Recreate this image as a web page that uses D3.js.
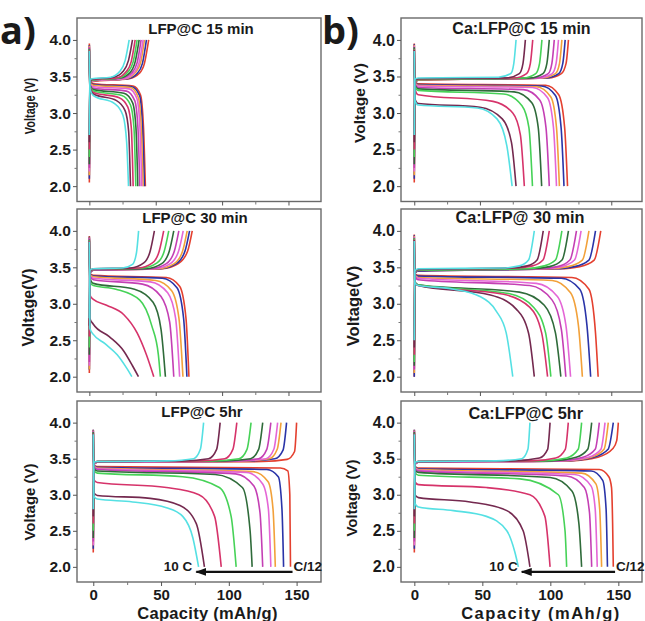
<!DOCTYPE html>
<html>
<head>
<meta charset="utf-8">
<script src="https://cdn.jsdelivr.net/npm/d3@7"></script>
<style>
  body { margin: 0; background: #fff; }
  text { font-family: "Liberation Sans", Arial, sans-serif; font-weight: bold; fill: #1a1a1a; }
</style>
</head>
<body>
<div id="visContainer"></div>
<script>

// rates, C/12 (highest capacity) down to 10 C
var rates = ["C/12", "C/10", "C/5", "C/3", "C/2", "1C", "2C", "3C", "5C", "10C"];
var rateColors = ["#e4402f", "#2a34a8", "#f2a13a", "#e466d6", "#c43fb4", "#2f6b3a", "#46d257", "#d6336a", "#74294f", "#55e0e3"];

var yTicks = [2.0, 2.5, 3.0, 3.5, 4.0];
var yMinor = [2.25, 2.75, 3.25, 3.75];
var xTicks = [0, 50, 100, 150];
var xMinor = [25, 75, 125];

// [capacity mAh/g, voltage V]
var a1Charge = [
  [[0,2.05],[0.4,3.40],[2,3.43],[30,3.47],[37.5,3.54],[41.5,3.68],[44.7,4.0]],
  [[0,2.1],[0.4,3.41],[2,3.44],[29,3.47],[36,3.54],[40,3.68],[43,4.0]],
  [[0,2.15],[0.4,3.41],[2,3.44],[27.5,3.47],[34.5,3.55],[38.5,3.68],[41.5,4.0]],
  [[0,2.2],[0.4,3.42],[2,3.44],[26.5,3.47],[33.5,3.55],[37.5,3.69],[40.5,4.0]],
  [[0,2.25],[0.4,3.42],[2,3.45],[25,3.48],[32,3.55],[36,3.69],[39,4.0]],
  [[0,2.3],[0.4,3.42],[2,3.45],[23.5,3.48],[30.5,3.55],[34.5,3.70],[37.5,4.0]],
  [[0,2.4],[0.4,3.43],[2,3.45],[22,3.48],[29,3.56],[33,3.70],[36,4.0]],
  [[0,2.5],[0.4,3.43],[2,3.46],[20.5,3.48],[27.5,3.56],[31.5,3.70],[34.5,4.0]],
  [[0,2.6],[0.4,3.44],[2,3.46],[18.5,3.49],[25.5,3.57],[29.5,3.72],[32.5,4.0]],
  [[0,2.7],[0.4,3.45],[2,3.47],[16,3.49],[23,3.57],[27,3.72],[30,4.0]]
];
var a1Discharge = [
  [[0,3.95],[0.4,3.43],[3,3.40],[33,3.37],[38.5,3.25],[40.8,2.8],[42.2,2.0]],
  [[0,3.93],[0.4,3.42],[3,3.39],[32,3.36],[37.8,3.24],[40.1,2.8],[41.5,2.0]],
  [[0,3.92],[0.4,3.41],[3,3.38],[31,3.35],[36.8,3.22],[39.1,2.8],[40.5,2.0]],
  [[0,3.9],[0.4,3.40],[3,3.36],[30,3.33],[35.8,3.20],[38.1,2.8],[39.5,2.0]],
  [[0,3.9],[0.4,3.39],[3,3.34],[28,3.30],[34.2,3.17],[36.6,2.8],[38,2.0]],
  [[0,3.88],[0.4,3.38],[3,3.32],[26,3.27],[32.6,3.14],[35.1,2.8],[36.5,2.0]],
  [[0,3.87],[0.4,3.37],[3,3.30],[24.5,3.24],[31,3.11],[33.6,2.8],[35,2.0]],
  [[0,3.86],[0.4,3.36],[3,3.28],[22.5,3.21],[29,3.08],[31.6,2.8],[33,2.0]],
  [[0,3.85],[0.4,3.35],[3,3.26],[20.5,3.17],[27,3.03],[29.6,2.75],[31,2.0]],
  [[0,3.85],[0.4,3.34],[3,3.24],[19,3.13],[25.3,2.97],[28.1,2.6],[29.5,2.0]]
];

var b1Charge = [
  [[0,2.05],[0.4,3.42],[3,3.45],[102,3.48],[112,3.54],[115.6,3.68],[117.4,4.0]],
  [[0,2.1],[0.4,3.42],[3,3.45],[100,3.48],[110,3.54],[113.1,3.68],[114.9,4.0]],
  [[0,2.15],[0.4,3.43],[3,3.45],[97,3.48],[107.5,3.54],[110.6,3.68],[112.4,4.0]],
  [[0,2.2],[0.4,3.43],[3,3.46],[95,3.48],[105,3.54],[108,3.68],[109.8,4.0]],
  [[0,2.25],[0.4,3.43],[3,3.46],[92,3.48],[102,3.54],[104.8,3.68],[106.6,4.0]],
  [[0,2.3],[0.4,3.44],[3,3.46],[88,3.48],[98,3.54],[101,3.68],[102.8,4.0]],
  [[0,2.4],[0.4,3.44],[3,3.46],[83,3.48],[92.5,3.54],[95.4,3.68],[97.2,4.0]],
  [[0,2.5],[0.4,3.45],[3,3.47],[76,3.48],[85.5,3.54],[88.4,3.68],[90.2,4.0]],
  [[0,2.6],[0.4,3.45],[3,3.47],[70,3.48],[80,3.54],[82.8,3.68],[84.6,4.0]],
  [[0,2.7],[0.4,3.46],[3,3.48],[64,3.49],[73.5,3.54],[75.8,3.68],[77.5,4.0]]
];
var b1Discharge = [
  [[0,3.95],[0.4,3.43],[3,3.40],[100,3.38],[110,3.25],[114.5,2.8],[116.7,2.0]],
  [[0,3.94],[0.4,3.42],[3,3.39],[97,3.37],[107.5,3.24],[111.8,2.8],[114,2.0]],
  [[0,3.93],[0.4,3.42],[3,3.38],[93,3.36],[104,3.22],[108.3,2.8],[110.5,2.0]],
  [[0,3.92],[0.4,3.41],[3,3.37],[90,3.35],[101.5,3.21],[106,2.8],[108.3,2.0]],
  [[0,3.9],[0.4,3.40],[3,3.35],[83,3.32],[95.5,3.18],[100.3,2.8],[102.8,2.0]],
  [[0,3.9],[0.4,3.39],[3,3.33],[76,3.29],[89.5,3.14],[94.4,2.8],[97,2.0]],
  [[0,3.88],[0.4,3.38],[3,3.31],[68,3.26],[82,3.10],[87.3,2.8],[90,2.0]],
  [[0,3.87],[0.4,3.34],[3,3.25],[60,3.16],[75,3.0],[80.8,2.7],[83.8,2.0]],
  [[0,3.86],[0.4,3.20],[3,3.13],[50,3.08],[67,2.92],[74,2.6],[77.5,2.0]],
  [[0,3.85],[0.4,3.18],[3,3.11],[48,3.07],[63,2.92],[70.5,2.55],[74.5,2.0]]
];

var a2Charge = [
  [[0,2.05],[0.4,3.42],[3,3.46],[55,3.48],[67,3.55],[74,3.72],[77.5,4.0]],
  [[0,2.1],[0.4,3.42],[3,3.46],[53.5,3.48],[65.5,3.55],[72,3.72],[75.5,4.0]],
  [[0,2.1],[0.4,3.43],[3,3.46],[52,3.48],[64,3.55],[70.2,3.72],[73.7,4.0]],
  [[0,2.15],[0.4,3.43],[3,3.46],[49,3.48],[61,3.55],[67.2,3.72],[70.7,4.0]],
  [[0,2.2],[0.4,3.43],[3,3.46],[46,3.48],[58,3.55],[64,3.72],[67.4,4.0]],
  [[0,2.3],[0.4,3.44],[3,3.47],[43,3.48],[54.5,3.55],[60.2,3.72],[63.6,4.0]],
  [[0,2.4],[0.4,3.44],[3,3.47],[40,3.49],[51,3.56],[56.4,3.72],[59.8,4.0]],
  [[0,2.55],[0.4,3.45],[3,3.47],[37,3.49],[47.5,3.56],[52.6,3.72],[56,4.0]],
  [[0,2.7],[0.4,3.45],[3,3.48],[31,3.49],[41,3.56],[45.8,3.72],[49,4.0]],
  [[0,2.8],[0.4,3.46],[3,3.48],[25,3.49],[32.5,3.54],[35.5,3.7],[37.1,4.0]]
];
var a2Discharge = [
  [[0,3.93],[0.4,3.42],[3,3.39],[58,3.36],[68,3.24],[72.8,2.8],[75,2.0]],
  [[0,3.92],[0.4,3.41],[3,3.38],[55,3.35],[66,3.22],[71,2.8],[73.5,2.0]],
  [[0,3.91],[0.4,3.40],[3,3.37],[50,3.32],[62,3.18],[67.5,2.8],[70.5,2.0]],
  [[0,3.9],[0.4,3.39],[3,3.35],[46,3.30],[59,3.15],[65,2.8],[68,2.0]],
  [[0,3.9],[0.4,3.38],[3,3.33],[40,3.27],[54,3.10],[60.5,2.75],[63.6,2.0]],
  [[0,3.88],[0.4,3.35],[3,3.28],[34,3.20],[48,3.02],[54,2.65],[57.3,2.0]],
  [[0,3.87],[0.4,3.30],[3,3.25],[20,3.2],[38,3.05],[47,2.7],[52,2.3],[53.5,2.0]],
  [[0,3.86],[0.4,3.12],[3,3.06],[13,2.98],[26,2.85],[36,2.6],[43,2.3],[48.5,2.0]],
  [[0,3.85],[0.4,2.8],[3,2.72],[15,2.55],[26,2.35],[32.5,2.15],[37,2.0]],
  [[0,3.85],[0.4,2.66],[3,2.58],[12,2.45],[21,2.3],[28,2.12],[32,2.0]]
];

var b2Charge = [
  [[0,2.0],[0.4,3.42],[3,3.45],[110,3.48],[126,3.51],[137,3.6],[142,4.0]],
  [[0,2.0],[0.4,3.42],[3,3.45],[107,3.48],[122,3.51],[133,3.6],[138,4.0]],
  [[0,2.05],[0.4,3.43],[3,3.46],[102,3.48],[117,3.51],[128,3.6],[133,4.0]],
  [[0,2.1],[0.4,3.43],[3,3.46],[97,3.48],[112,3.51],[122,3.6],[127,4.0]],
  [[0,2.1],[0.4,3.43],[3,3.46],[94,3.48],[109,3.51],[118.5,3.6],[123.5,4.0]],
  [[0,2.15],[0.4,3.44],[3,3.46],[88,3.48],[103,3.51],[112.5,3.6],[117.4,4.0]],
  [[0,2.2],[0.4,3.44],[3,3.46],[84,3.48],[99,3.52],[107.5,3.6],[112.4,4.0]],
  [[0,2.3],[0.4,3.44],[3,3.47],[76,3.49],[90,3.52],[98,3.6],[102.8,4.0]],
  [[0,2.4],[0.4,3.45],[3,3.47],[72,3.49],[86,3.52],[93.5,3.6],[98.2,4.0]],
  [[0,2.5],[0.4,3.45],[3,3.48],[66,3.49],[80,3.52],[87,3.6],[91.4,4.0]]
];
var b2Discharge = [
  [[0,3.95],[0.4,3.42],[3,3.39],[120,3.36],[133,3.2],[138,2.6],[140,2.0]],
  [[0,3.94],[0.4,3.41],[3,3.38],[112,3.35],[126,3.2],[131.5,2.7],[134.3,2.0]],
  [[0,3.93],[0.4,3.40],[3,3.36],[105,3.32],[119,3.15],[125,2.7],[128,2.0]],
  [[0,3.92],[0.4,3.39],[3,3.35],[93,3.28],[109,3.1],[115.5,2.7],[119,2.0]],
  [[0,3.91],[0.4,3.38],[3,3.33],[88,3.25],[105,3.05],[112,2.65],[115.4,2.0]],
  [[0,3.9],[0.4,3.30],[3,3.26],[80,3.16],[99,2.98],[107.5,2.6],[111.6,2.0]],
  [[0,3.9],[0.4,3.30],[3,3.26],[72,3.14],[91,2.95],[100,2.6],[104,2.0]],
  [[0,3.88],[0.4,3.30],[3,3.25],[68,3.13],[88,2.95],[97,2.6],[101.5,2.0]],
  [[0,3.87],[0.4,3.29],[3,3.25],[58,3.12],[78,2.92],[87,2.6],[91.4,2.0]],
  [[0,3.86],[0.4,3.29],[3,3.25],[30,3.2],[50,3.1],[62.4,2.9],[70,2.6],[75,2.0]]
];

var a3Charge = [
  [[0,2.2],[0.4,3.42],[3,3.45],[125,3.46],[143,3.49],[148.5,3.6],[150,4.0]],
  [[0,2.25],[0.4,3.42],[3,3.45],[115,3.47],[134,3.5],[140,3.62],[142.6,4.0]],
  [[0,2.3],[0.4,3.43],[3,3.45],[110,3.47],[130,3.5],[135.7,3.63],[138.5,4.0]],
  [[0,2.3],[0.4,3.43],[3,3.45],[108,3.47],[127.5,3.5],[133.2,3.63],[136,4.0]],
  [[0,2.35],[0.4,3.43],[3,3.45],[103,3.47],[122,3.5],[128,3.63],[131,4.0]],
  [[0,2.4],[0.4,3.44],[3,3.46],[97,3.47],[116,3.5],[122,3.63],[125,4.0]],
  [[0,2.5],[0.4,3.44],[3,3.46],[88,3.47],[107.5,3.5],[113.4,3.63],[116.4,4.0]],
  [[0,2.6],[0.4,3.45],[3,3.46],[78,3.47],[97,3.5],[103,3.63],[105.9,4.0]],
  [[0,2.7],[0.4,3.45],[3,3.46],[66,3.47],[85,3.5],[91,3.63],[93.6,4.0]],
  [[0,2.8],[0.4,3.45],[3,3.46],[55,3.47],[74,3.5],[79,3.63],[81.4,4.0]]
];
var a3Discharge = [
  [[0,3.9],[0.4,3.42],[3,3.39],[138,3.37],[143.5,3.33],[145,3.0],[145.5,2.0]],
  [[0,3.9],[0.4,3.41],[3,3.38],[128,3.35],[136.5,3.25],[139.2,2.8],[140.4,2.0]],
  [[0,3.89],[0.4,3.40],[3,3.37],[118,3.32],[129,3.18],[132.6,2.8],[134.3,2.0]],
  [[0,3.88],[0.4,3.40],[3,3.36],[113,3.31],[125,3.15],[129.2,2.8],[131,2.0]],
  [[0,3.88],[0.4,3.39],[3,3.35],[105,3.29],[118.5,3.12],[123,2.75],[125,2.0]],
  [[0,3.87],[0.4,3.37],[3,3.33],[90,3.28],[110,3.1],[115.7,2.5],[117.2,2.0]],
  [[0,3.86],[0.4,3.34],[3,3.30],[66,3.25],[93,3.1],[101.7,2.7],[105.4,2.0]],
  [[0,3.85],[0.4,3.21],[3,3.17],[54,3.1],[78,3.0],[89.5,2.7],[94.4,2.0]],
  [[0,3.85],[0.4,3.03],[3,2.99],[42,2.95],[64,2.85],[76,2.6],[82,2.0]],
  [[0,3.84],[0.4,2.98],[3,2.94],[29,2.9],[54,2.82],[66,2.7],[73.5,2.4],[77.7,2.0]]
];

var b3Charge = [
  [[0,2.2],[0.4,3.42],[3,3.45],[115,3.47],[135,3.52],[146,3.64],[148.8,3.75],[150,4.0]],
  [[0,2.25],[0.4,3.42],[3,3.45],[112,3.47],[132,3.52],[142.5,3.63],[146.3,4.0]],
  [[0,2.3],[0.4,3.43],[3,3.45],[110,3.47],[130,3.52],[139.5,3.63],[142.6,4.0]],
  [[0,2.3],[0.4,3.43],[3,3.45],[108,3.47],[128,3.52],[137.2,3.63],[140.2,4.0]],
  [[0,2.35],[0.4,3.43],[3,3.45],[105,3.47],[124,3.52],[133,3.63],[136,4.0]],
  [[0,2.4],[0.4,3.44],[3,3.46],[100,3.47],[119,3.52],[127.5,3.63],[130.4,4.0]],
  [[0,2.5],[0.4,3.44],[3,3.46],[94,3.47],[112,3.51],[120.5,3.63],[123,4.0]],
  [[0,2.6],[0.4,3.45],[3,3.46],[86,3.47],[104,3.51],[111,3.63],[113.2,4.0]],
  [[0,2.7],[0.4,3.45],[3,3.46],[72,3.47],[92,3.51],[98,3.63],[99.8,4.0]],
  [[0,2.8],[0.4,3.45],[3,3.46],[60,3.47],[79,3.5],[83.5,3.63],[85,4.0]]
];
var b3Discharge = [
  [[0,3.9],[0.4,3.40],[3,3.37],[136,3.35],[143,3.25],[145,3.1],[145.8,2.6],[146.3,2.0]],
  [[0,3.9],[0.4,3.39],[3,3.36],[130,3.33],[138.5,3.2],[141,2.8],[142,2.0]],
  [[0,3.89],[0.4,3.38],[3,3.35],[123,3.3],[133.5,3.15],[136.3,2.8],[137.7,2.0]],
  [[0,3.88],[0.4,3.37],[3,3.34],[118,3.28],[130,3.12],[133,2.8],[134.5,2.0]],
  [[0,3.88],[0.4,3.36],[3,3.33],[112,3.26],[125,3.1],[128.8,2.75],[130.4,2.0]],
  [[0,3.87],[0.4,3.34],[3,3.31],[100,3.24],[116,3.05],[121,2.6],[123,2.0]],
  [[0,3.86],[0.4,3.31],[3,3.27],[77.7,3.22],[105.9,3.0],[110.8,2.5],[112,2.0]],
  [[0,3.85],[0.4,3.18],[3,3.14],[53,3.1],[85,3.0],[96,2.7],[99.8,2.0]],
  [[0,3.85],[0.4,3.0],[3,2.96],[41,2.9],[68,2.78],[80,2.5],[85,2.0]],
  [[0,3.84],[0.4,2.88],[3,2.83],[28.7,2.78],[53,2.7],[68,2.5],[74,2.2],[76.5,2.0]]
];

// rate arrow in the 5 hr panels (C/12 -> 10 C)
var arrowFrom = [147, 147.6];
var arrowTo = [76, 79];
var arrowVolt = 1.93;

var panels = [
  {title: "LFP@C 15 min", tx: 201, ty: 33.5, ts: 15, ylab: "Voltage (V)", ylx: 34.5, yly: 106, yls: 15, ylsx: 0.73,
   left: 77, right: 321, top: 18, bottom: 201.5, xDom: [-9.3, 174.5], tick: 15.5, chg: a1Charge, dis: a1Discharge},
  {title: "Ca:LFP@C 15 min", tx: 521.5, ty: 34.3, ts: 16, ylab: "Voltage (V)", ylx: 364.5, yly: 103, yls: 15.5, ylsx: 1,
   left: 401, right: 642, top: 18, bottom: 201.5, xDom: [-10.1, 173.4], tick: 16, chg: b1Charge, dis: b1Discharge},
  {title: "LFP@C 30 min", tx: 195, ty: 223.3, ts: 15, ylab: "Voltage(V)", ylx: 33.5, yly: 307.5, yls: 16, ylsx: 1,
   left: 77, right: 321, top: 209, bottom: 392, xDom: [-9.3, 174.5], tick: 15.5, chg: a2Charge, dis: a2Discharge},
  {title: "Ca:LFP@ 30 min", tx: 520, ty: 223.3, ts: 16.3, ylab: "Voltage(V)", ylx: 358.5, yly: 306, yls: 16.5, ylsx: 1,
   left: 401, right: 642, top: 209, bottom: 392, xDom: [-10.1, 173.4], tick: 16, chg: b2Charge, dis: b2Discharge},
  {title: "LFP@C 5hr", tx: 202, ty: 417.3, ts: 15, ylab: "Voltage (V)", ylx: 35, yly: 502, yls: 15, ylsx: 1,
   left: 77, right: 321, top: 401, bottom: 582, xDom: [-12, 168], tick: 15.5, chg: a3Charge, dis: a3Discharge,
   xlab: true, xlx: 207.5, xls: 16.5, xlsp: 0.3, arrow: 0},
  {title: "Ca:LFP@C 5hr", tx: 525.8, ty: 419.3, ts: 16.3, ylab: "Voltage (V)", ylx: 357, yly: 498, yls: 15, ylsx: 1,
   left: 401, right: 642, top: 401, bottom: 582, xDom: [-9.8, 167.4], tick: 16, chg: b3Charge, dis: b3Discharge,
   xlab: true, xlx: 541, xls: 16.5, xlsp: 1.5, arrow: 1}
];

var svg = d3.select("#visContainer").append("svg")
    .attr("width", 645)
    .attr("height", 621)
    .style("background", "#fff");

svg.append("defs").append("marker")
    .attr("id", "head")
    .attr("markerUnits", "userSpaceOnUse")
    .attr("markerWidth", 11).attr("markerHeight", 8)
    .attr("refX", 10).attr("refY", 4)
    .attr("orient", "auto")
  .append("path")
    .attr("d", "M0,0L11,4L0,8Z")
    .attr("fill", "#111");

panels.forEach(function(p) {
  var x = d3.scaleLinear().domain(p.xDom).range([p.left, p.right]);
  var y = d3.scaleLinear().domain([1.79, 4.30]).range([p.bottom, p.top]);
  var g = svg.append("g");

  var line = d3.line()
      .x(function(d) { return x(d[0]); })
      .y(function(d) { return y(d[1]); })
      .curve(d3.curveMonotoneX);

  rateColors.forEach(function(c, i) {
    g.append("path").attr("d", line(p.chg[i]))
        .attr("fill", "none").attr("stroke", c).attr("stroke-width", 1.6);
    g.append("path").attr("d", line(p.dis[i]))
        .attr("fill", "none").attr("stroke", c).attr("stroke-width", 1.6);
  });

  // frame
  g.append("rect")
      .attr("x", p.left).attr("y", p.top)
      .attr("width", p.right - p.left).attr("height", p.bottom - p.top)
      .attr("fill", "none").attr("stroke", "#6a6a6a").attr("stroke-width", 1.4);

  // y axis
  var ya = g.append("g")
      .attr("transform", "translate(" + p.left + ",0)")
      .call(d3.axisLeft(y).tickValues(yTicks).tickFormat(d3.format(".1f")).tickSize(4).tickPadding(2));
  ya.select(".domain").remove();
  ya.selectAll("line").attr("stroke", "#555");
  ya.selectAll("text").style("font-size", p.tick + "px").attr("fill", "#222");
  var ym = g.append("g")
      .attr("transform", "translate(" + p.left + ",0)")
      .call(d3.axisLeft(y).tickValues(yMinor).tickFormat("").tickSize(2.5));
  ym.select(".domain").remove();
  ym.selectAll("line").attr("stroke", "#777");

  // x axis
  var xa = g.append("g")
      .attr("transform", "translate(0," + p.bottom + ")")
      .call(d3.axisBottom(x).tickValues(xTicks)
        .tickFormat(p.xlab ? d3.format("d") : "").tickSize(4).tickPadding(3));
  xa.select(".domain").remove();
  xa.selectAll("line").attr("stroke", "#555");
  xa.selectAll("text").style("font-size", "15px").attr("fill", "#222");
  var xm = g.append("g")
      .attr("transform", "translate(0," + p.bottom + ")")
      .call(d3.axisBottom(x).tickValues(xMinor).tickFormat("").tickSize(3));
  xm.select(".domain").remove();
  xm.selectAll("line").attr("stroke", "#777");

  // title
  g.append("text")
      .attr("x", p.tx).attr("y", p.ty)
      .style("text-anchor", "middle")
      .style("font-size", p.ts + "px")
      .text(p.title);

  // y label
  g.append("text")
      .attr("transform", "translate(" + p.ylx + "," + p.yly + ") rotate(-90) scale(" + p.ylsx + ",1)")
      .style("text-anchor", "middle")
      .style("font-size", p.yls + "px")
      .text(p.ylab);

  if (p.xlab) {
    g.append("text")
        .attr("x", p.xlx).attr("y", 618.5)
        .style("text-anchor", "middle")
        .style("font-size", p.xls + "px")
        .style("letter-spacing", p.xlsp + "px")
        .text("Capacity (mAh/g)");
  }

  if (p.arrow !== undefined) {
    var k = p.arrow;
    g.append("line")
        .attr("x1", x(arrowFrom[k])).attr("x2", x(arrowTo[k]))
        .attr("y1", y(arrowVolt)).attr("y2", y(arrowVolt))
        .attr("stroke", "#111").attr("stroke-width", 2.2)
        .attr("marker-end", "url(#head)");
    g.append("text")
        .attr("x", x(arrowTo[k]) - 4).attr("y", y(arrowVolt) - 0.5)
        .style("text-anchor", "end")
        .style("font-size", "13.5px")
        .text("10 C");
    g.append("text")
        .attr("x", x(arrowFrom[k]) + 1).attr("y", y(arrowVolt) - 0.5)
        .style("font-size", "13.5px")
        .text(rates[0]);
  }
});

// panel letters
svg.append("text")
    .attr("x", 0).attr("y", 44)
    .style("font-family", "'Open Sans', sans-serif")
    .style("font-size", "38px")
    .style("font-weight", "bold")
    .text("a)");
svg.append("text")
    .attr("x", 322).attr("y", 44)
    .style("font-family", "'Open Sans', sans-serif")
    .style("font-size", "38px")
    .style("font-weight", "bold")
    .text("b)");

</script>
</body>
</html>
